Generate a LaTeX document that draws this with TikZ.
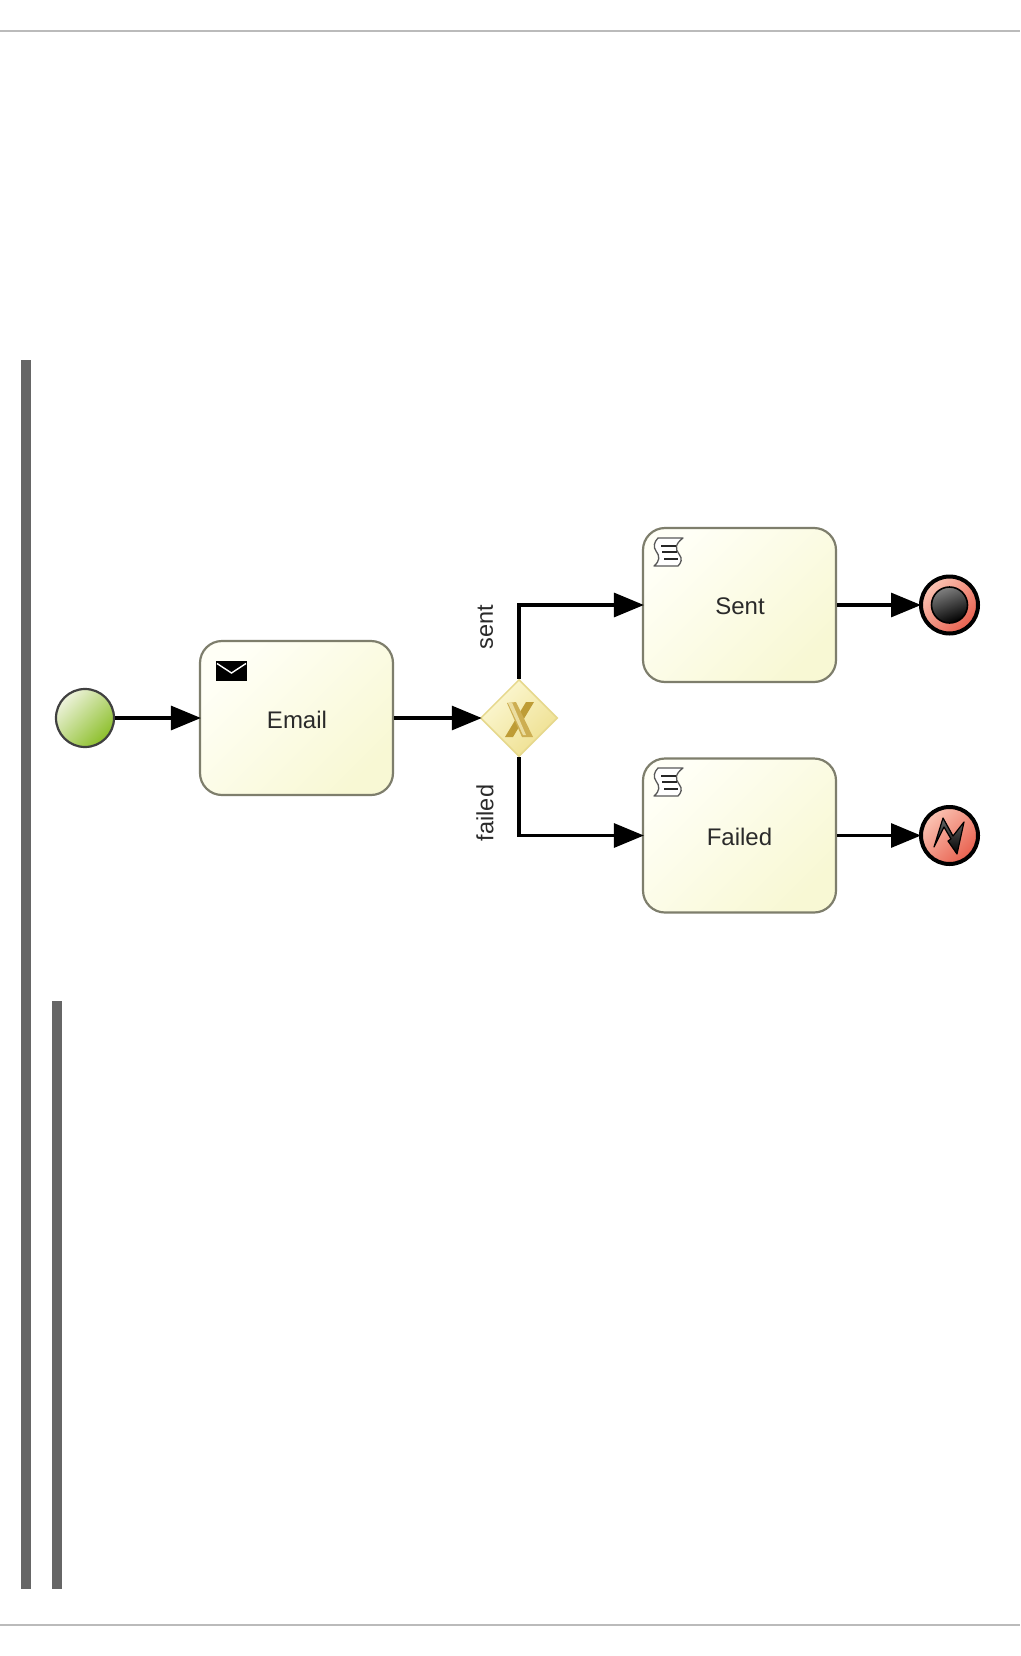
\documentclass[tikz,border=0pt]{standalone}
\usepackage{fontspec}
\setmainfont{Liberation Sans}
\usetikzlibrary{shapes.geometric,arrows.meta}
\definecolor{boxedge}{HTML}{7E7E6C}
\definecolor{boxlight}{HTML}{FFFFF6}
\definecolor{boxdark}{HTML}{F8F8D4}
\definecolor{txt}{HTML}{2A2A2A}
\definecolor{barc}{HTML}{666666}
\definecolor{rulec}{HTML}{BBBBBB}
\definecolor{startlight}{HTML}{EEF3DC}
\definecolor{startdark}{HTML}{8CBF2A}
\definecolor{endlight}{HTML}{FBC4B4}
\definecolor{enddark}{HTML}{E8604E}
\definecolor{gatelight}{HTML}{FCF8D4}
\definecolor{gatedark}{HTML}{EEDF8E}
\definecolor{gateedge}{HTML}{E6D88C}
\definecolor{xdark}{HTML}{BE9C36}
\definecolor{xmid}{HTML}{CDAE52}
\definecolor{xlight}{HTML}{EBDDA0}
\tikzset{
  flow/.style={draw=black,line width=3.2pt,shorten >=-2pt,-{Triangle[length=30pt,width=24pt]}},
  taskbox/.style={draw=boxedge,line width=2.2pt,rounded corners=22pt,minimum width=193pt,minimum height=154pt,
    top color=boxlight,bottom color=boxdark,shading angle=45,
    inner sep=0pt},
  tasktext/.style={text=txt,font=\fontsize{24}{26}\selectfont,inner sep=0pt},
  lab/.style={rotate=90,font=\fontsize{23.5}{26}\selectfont,text=txt,inner sep=0pt},
  bar/.style={fill=barc,draw=none},
  rule/.style={draw=rulec,line width=2pt},
  startev/.style={circle,draw=black!75,line width=2.2pt,minimum size=58pt,inner sep=0pt,
    top color=startlight,bottom color=startdark,shading angle=45},
  endev/.style={circle,draw=black,line width=4pt,minimum size=57pt,inner sep=0pt,
    top color=endlight,bottom color=enddark,shading angle=45},
  gate/.style={diamond,shape aspect=1,draw=gateedge,line width=1.5pt,minimum width=77pt,minimum height=77pt,inner sep=0pt,
    top color=gatelight,bottom color=gatedark,shading angle=45},
  scrollicon/.pic={
    \draw[black!65,fill=white,line width=1.3pt,line join=round]
      (5,0) -- (30,0) .. controls (22,6) and (22,11) .. (26,16) .. controls (30,21) and (28,25) .. (25,28)
      -- (1,28) .. controls (7,23) and (7,18) .. (3,13) .. controls (0,9) and (1,4) .. (5,0) -- cycle;
    \draw[black!85,line width=2pt] (8,7.5) -- (23,7.5) (9,14) -- (24,14) (11,20.5) -- (25,20.5);
  },
}
\begin{document}
\begin{tikzpicture}[x=1pt,y=-1pt]
\useasboundingbox (0,0) rectangle (1020,1656);
\fill[white] (0,0) rectangle (1020,1656);
\draw[rule] (0,31) -- (1020,31);
\draw[rule] (0,1625) -- (1020,1625);
\fill[bar] (21,360) rectangle (31,1589);
\fill[bar] (52,1001) rectangle (62,1589);
% nodes
\node[startev] (start) at (85,718) {};
\node[taskbox] (email) at (296.5,718) {};
\node[tasktext] (emailt) at (297,720) {Email};
\node[gate] (gw) at (519,718) {};
\node[taskbox] (sent) at (739.5,605) {};
\node[tasktext] (sentt) at (740,606) {Sent};
\node[taskbox] (failed) at (739.5,835.5) {};
\node[tasktext] (failedt) at (739.5,836.5) {Failed};
\node[endev] (endok) at (949.5,605) {};
\node[circle,draw=black,line width=1.6pt,minimum size=36pt,inner sep=0pt,top color=black!50,bottom color=black,shading angle=20] (endin) at (949.5,605) {};
\node[endev] (enderr) at (949.5,835.5) {};
% connectors
\draw[flow] (start) -- (email);
\draw[flow] (email) -- (gw);
\draw[flow] (gw.north) |- (sent.west);
\draw[flow] (gw.south) |- (failed.west);
\draw[flow] (sent) -- (endok);
\draw[flow] (failed) -- (enderr);
% labels
\node[lab] (lsent) at (485.5,627.5) {sent};
\node[lab] (lfailed) at (485,813) {failed};
% envelope
\fill[black] (216,661) rectangle (247,681);
\draw[white,line width=1.4pt] (217,663.5) -- (231.5,673) -- (246,663.5);
% scrolls
\pic at (653,538) {scrollicon};
\pic at (653,768) {scrollicon};
% X of gateway
\fill[xdark] (526,702) -- (534,702) -- (513,737) -- (505,737) -- cycle;
\fill[xmid] (507,703) -- (516,702) -- (533,737) -- (522,737) -- cycle;
\fill[xlight] (508,703) -- (512,702.5) -- (526,735) -- (523,735) -- cycle;
% lightning
\shade[top color=black!60,bottom color=black,draw=black,line width=1.2pt,line join=round]
  (934,847) -- (943,818) -- (953,836) -- (964,822) -- (957,854) -- (948,841) -- (951,839) -- (944,827) -- cycle;
\end{tikzpicture}
\end{document}
